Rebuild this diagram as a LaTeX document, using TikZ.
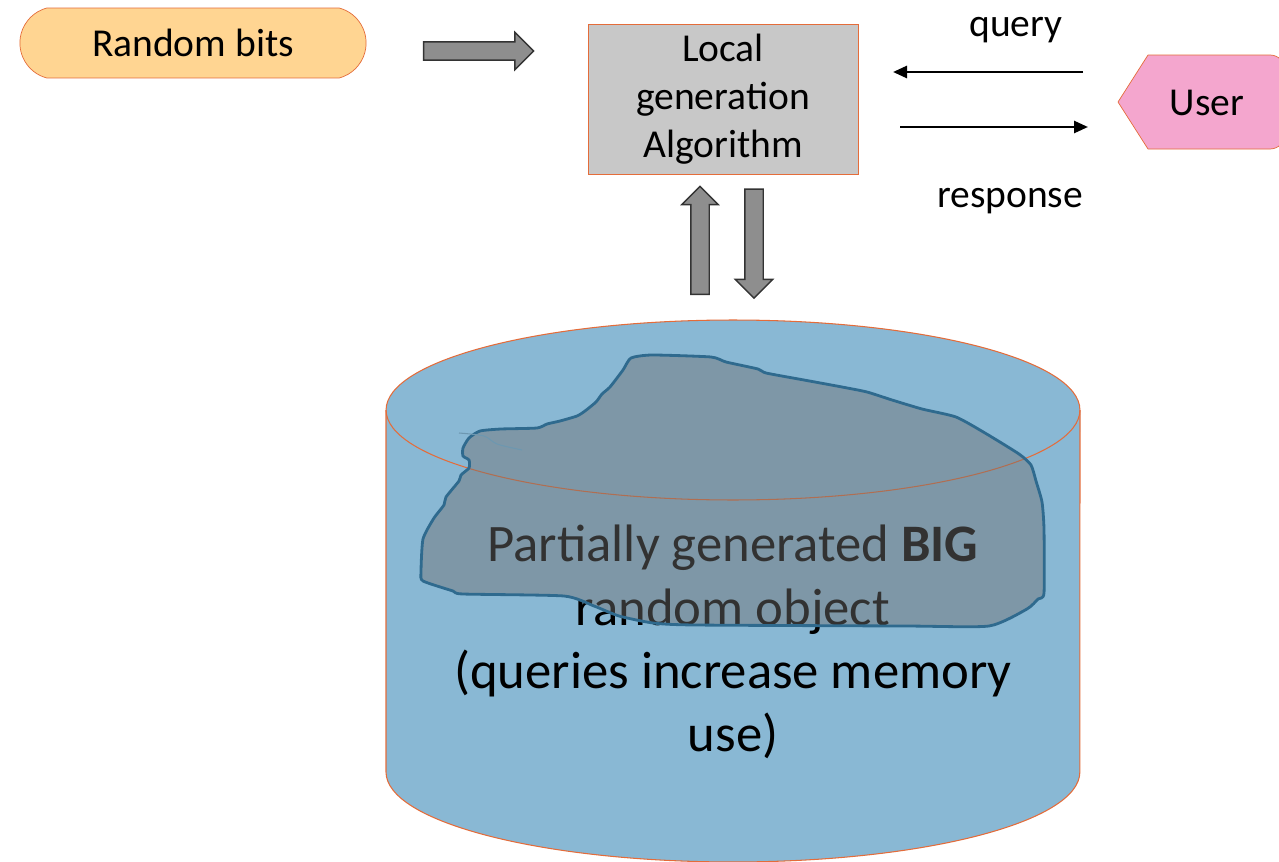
\documentclass[tikz,border=0pt]{standalone}
\usepackage{fontspec}
\setmainfont{Carlito}
\usetikzlibrary{arrows.meta, shapes.misc, shapes.arrows, positioning, calc}

\definecolor{edgeorange}{HTML}{E46C3A}
\definecolor{bitsfill}{HTML}{FFD592}
\definecolor{userfill}{HTML}{F4A6CE}
\definecolor{boxfill}{HTML}{C8C8C8}
\definecolor{drumfill}{HTML}{89B8D4}
\definecolor{blobline}{HTML}{2F6A8E}
\definecolor{blobgray}{HTML}{717171}
\definecolor{blockgray}{HTML}{8E8E8E}

\tikzset{
  midtext/.style={font=\fontsize{22.5}{27.3}\selectfont},
  blockarrow/.style={single arrow, draw=black!80, fill=blockgray, line width=0.8pt,
    single arrow head indent=0pt, inner xsep=0pt, inner ysep=0.17cm, anchor=center},
  flow/.style={-{Triangle[length=0.28cm, width=0.24cm]}, line width=1.5pt},
}

\begin{document}
\begin{tikzpicture}[x=0.02cm, y=-0.02cm]
      \useasboundingbox (0,0) rectangle (1279,862);

      % Top row: bits -> algorithm <-> user
      \node[rounded rectangle, rounded rectangle arc length=150, draw=edgeorange, fill=bitsfill,
        minimum width=7.16cm, minimum height=1.4cm, midtext] (bits) at (193,43) {Random bits};
      \node[blockarrow, minimum height=2.2cm, single arrow head extend=0.19cm] (feed) at (474,51) {};

      \node[draw=edgeorange, fill=boxfill, minimum width=5.4cm, minimum height=3cm,
        align=center, midtext] (algo) at (723,99) {Local\\generation\\Algorithm};

      % User tag, cut off at the right edge
      \draw[edgeorange, fill=userfill] (1118,102) -- (1148,55)
        [rounded corners=0.3cm] -- (1285,55) -- (1285,149) [sharp corners] -- (1148,149) -- cycle;
      \node[midtext] (user) at (1207,103) {User};

      % Query / response
      \coordinate (qstart) at (1083,72);
      \coordinate (qend) at (893,72);
      \coordinate (rstart) at (900,127);
      \coordinate (rend) at (1088,127);
      \draw[flow] (qstart) -- (qend);
      \draw[flow] (rstart) -- (rend);
      \node[midtext] (query) at (1016,30) {query};
      \node[midtext] (response) at (1010,201) {response};

      % Up and down exchange with the storage
      \node[blockarrow, rotate=90, minimum height=2.16cm, single arrow head extend=0.18cm] (up) at (700,245) {};
      \node[blockarrow, rotate=-90, minimum height=2.18cm, single arrow head extend=0.19cm] (down) at (754,239) {};

      % Storage drum
      \fill[drumfill] (386,410) -- (386,772) arc[start angle=180, end angle=360, x radius=6.94cm, y radius=1.8cm]
        -- (1080,410) arc[start angle=0, end angle=180, x radius=6.94cm, y radius=1.8cm] -- cycle;
      \draw[edgeorange, line width=0.6pt] (386,410) -- (386,772)
        arc[start angle=180, end angle=360, x radius=6.94cm, y radius=1.8cm] -- (1080,410);
      \draw[edgeorange, line width=0.6pt] (733,410) ellipse[x radius=6.94cm, y radius=1.8cm];

      \node[font=\fontsize{30}{36}\selectfont, align=center] (object) at (733,642)
        {Partially generated \textbf{BIG}\\random object\\(queries increase memory\\use)};

      % Generated part, laid over the text
      \draw[blobline, line width=1.6pt, fill=blobgray, fill opacity=0.45]
        plot[smooth cycle, tension=0.35] coordinates {
        (631,358) (652,355) (711,357) (726,362) (758,369) (766,373) (804,380)
        (842,387) (867,392) (892,400) (922,409) (956,417) (985,433) (1019,454)
        (1031,465) (1036,481) (1042,502) (1044,529) (1044,593) (1038,599)
        (1027,609) (989,626) (905,626) (695,625) (653,623) (619,616) (594,606)
        (564,596) (463,594) (453,591) (423,581) (421,572) (423,539) (434,518)
        (444,505) (446,497) (459,481) (461,475) (469,468) (469,460) (463,456)
        (463,448) (469,438) (480,431) (501,429) (537,428) (547,424) (560,421)
        (577,416) (585,411) (596,402) (602,394) (610,387) (623,370)};
      \draw[blobline!70!white, line width=0.6pt]
        plot[smooth] coordinates {(459,433) (484,436) (497,444) (522,450)};
\end{tikzpicture}
\end{document}
